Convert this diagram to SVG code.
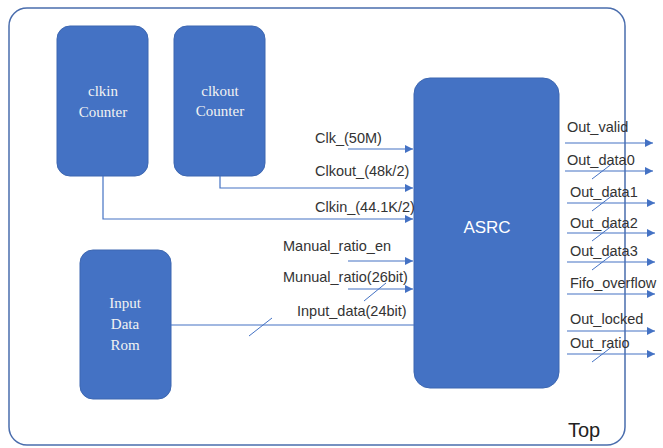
<svg xmlns="http://www.w3.org/2000/svg" width="663" height="448" viewBox="0 0 663 448">
<style>
.box{fill:#4472C4;stroke:#3D67B1;stroke-width:1}
.ser{font-family:"Liberation Serif","DejaVu Serif",serif;font-size:15px;fill:#F2F2F2;text-anchor:middle}
.lbl{font-family:"Liberation Sans","Open Sans",sans-serif;font-size:14.5px;fill:#333333}
.ln{fill:none;stroke:#4472C4;stroke-width:1.2}
.sl{fill:none;stroke:#4472C4;stroke-width:1}
</style>
<defs>
<marker id="ah" viewBox="0 0 10 10" refX="10" refY="5" markerWidth="10" markerHeight="8" markerUnits="userSpaceOnUse" orient="auto">
<path d="M0,0 L10,5 L0,10 z" fill="#4472C4"/>
</marker>
</defs>
<rect width="663" height="448" fill="#ffffff"/>
<g id="top">
<rect x="9" y="8" width="616" height="437" rx="18" fill="none" stroke="#4A6DAD" stroke-width="1.5"/>
<text x="584" y="437" font-family="Liberation Sans, Open Sans, sans-serif" font-size="20" fill="#222" text-anchor="middle">Top</text>
</g>
<g id="clkin_counter">
<rect class="box" x="57" y="26" width="91" height="150" rx="13"/>
<text class="ser" x="103" y="96">clkin</text>
<text class="ser" x="103" y="117">Counter</text>
</g>
<g id="clkout_counter">
<rect class="box" x="174" y="26" width="91" height="150" rx="13"/>
<text class="ser" x="220" y="96">clkout</text>
<text class="ser" x="220" y="116">Counter</text>
</g>
<g id="input_rom">
<rect class="box" x="80" y="250" width="91" height="149" rx="13"/>
<text class="ser" x="125" y="308">Input</text>
<text class="ser" x="125" y="329">Data</text>
<text class="ser" x="125" y="350">Rom</text>
</g>
<g id="asrc">
<rect class="box" x="414" y="78" width="145" height="310" rx="16"/>
<text x="487" y="233" font-family="Liberation Sans, Open Sans, sans-serif" font-size="17" fill="#FFFFFF" text-anchor="middle">ASRC</text>
</g>
<g id="connectors">
<path class="ln" d="M348,149 H413" marker-end="url(#ah)"/>
<path class="ln" d="M220,176 V188 H413" marker-end="url(#ah)"/>
<path class="ln" d="M103,176 V219 H413" marker-end="url(#ah)"/>
<path class="ln" d="M348,261 H413" marker-end="url(#ah)"/>
<path class="ln" d="M348,289 H413" marker-end="url(#ah)"/>
<path class="sl" d="M364,301 L386,283"/>
<path class="ln" d="M171,325 H414"/>
<path class="sl" d="M249,336 L272,318"/>
<path class="ln" d="M565,143 H653" marker-end="url(#ah)"/>
<path class="ln" d="M565,171 H653" marker-end="url(#ah)"/>
<path class="sl" d="M592,179 L613,163"/>
<path class="ln" d="M567,203 H655" marker-end="url(#ah)"/>
<path class="sl" d="M592,211 L613,195"/>
<path class="ln" d="M567,233 H655" marker-end="url(#ah)"/>
<path class="sl" d="M592,241 L613,225"/>
<path class="ln" d="M567,262 H655" marker-end="url(#ah)"/>
<path class="sl" d="M592,270 L613,254"/>
<path class="ln" d="M567,294 H655" marker-end="url(#ah)"/>
<path class="ln" d="M567,331 H655" marker-end="url(#ah)"/>
<path class="ln" d="M567,354 H655" marker-end="url(#ah)"/>
<path class="sl" d="M592,362 L613,346"/>
</g>
<g id="labels">
<text class="lbl" x="315" y="143">Clk_(50M)</text>
<text class="lbl" x="315" y="176">Clkout_(48k/2)</text>
<text class="lbl" x="315" y="212">Clkin_(44.1K/2)</text>
<text class="lbl" x="283" y="251">Manual_ratio_en</text>
<text class="lbl" x="283" y="282">Munual_ratio(26bit)</text>
<text class="lbl" x="297" y="316">Input_data(24bit)</text>
<text class="lbl" x="567" y="132">Out_valid</text>
<text class="lbl" x="567" y="165">Out_data0</text>
<text class="lbl" x="570" y="197">Out_data1</text>
<text class="lbl" x="570" y="228">Out_data2</text>
<text class="lbl" x="570" y="256">Out_data3</text>
<text class="lbl" x="570" y="288">Fifo_overflow</text>
<text class="lbl" x="570" y="324">Out_locked</text>
<text class="lbl" x="570" y="348">Out_ratio</text>
</g>
</svg>
